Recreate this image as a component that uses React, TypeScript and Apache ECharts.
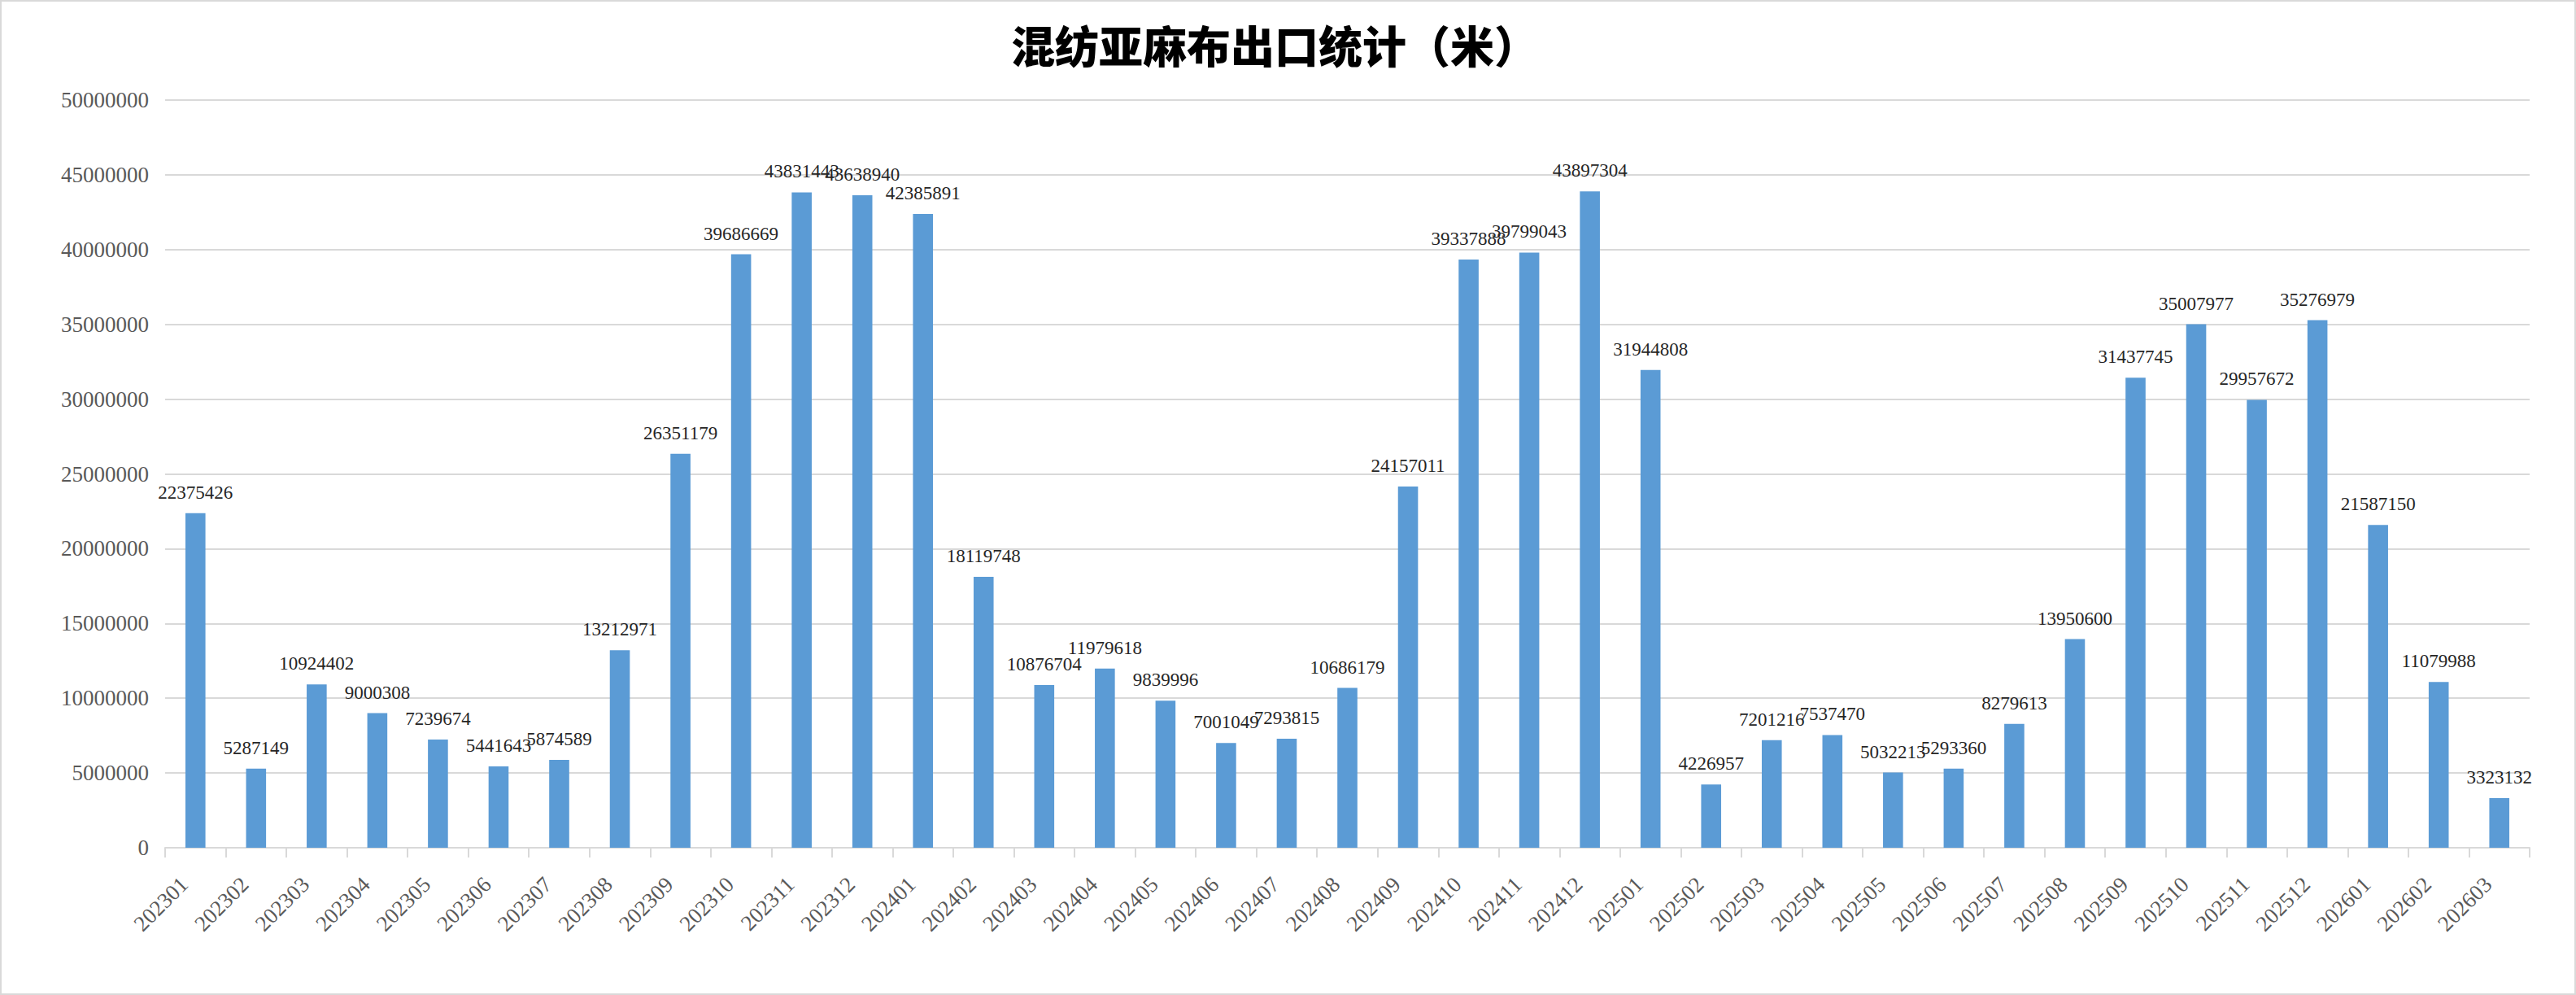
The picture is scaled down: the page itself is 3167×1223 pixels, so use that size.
import React, { useEffect, useRef } from "react";
import * as echarts from "echarts";

const titleText = "混纺亚麻布出口统计（米）";

const categories = [
  "202301", "202302", "202303", "202304", "202305", "202306", "202307", "202308",
  "202309", "202310", "202311", "202312", "202401", "202402", "202403", "202404",
  "202405", "202406", "202407", "202408", "202409", "202410", "202411", "202412",
  "202501", "202502", "202503", "202504", "202505", "202506", "202507", "202508",
  "202509", "202510", "202511", "202512", "202601", "202602", "202603",
];

const values = [
  22375426, 5287149, 10924402, 9000308, 7239674, 5441643, 5874589, 13212971,
  26351179, 39686669, 43831443, 43638940, 42385891, 18119748, 10876704, 11979618,
  9839996, 7001049, 7293815, 10686179, 24157011, 39337888, 39799043, 43897304,
  31944808, 4226957, 7201216, 7537470, 5032213, 5293360, 8279613, 13950600,
  31437745, 35007977, 29957672, 35276979, 21587150, 11079988, 3323132,
];

const yMin = 0;
const yMax = 50000000;
const yInterval = 5000000;

const W = 3167;
const H = 1223;

export default function App() {
  const ref = useRef<HTMLDivElement>(null);

  useEffect(() => {
    document.body.style.margin = "0";
    if (!ref.current) return;
    const chart = echarts.init(ref.current, undefined, { renderer: "svg", width: W, height: H });
    const serif = "'Liberation Serif', 'Times New Roman', serif";
    chart.setOption({
      animation: false,
      backgroundColor: "#ffffff",
      graphic: [
        {
          type: "rect",
          shape: { x: 1, y: 1, width: W - 2, height: H - 2 },
          style: { fill: "none", stroke: "#d9d9d9", lineWidth: 2 },
          z: 0,
        },
        {
          type: "text",
          x: 1567,
          y: 54,
          style: {
            text: titleText,
            fontFamily: "'Noto Sans CJK SC', sans-serif",
            fontWeight: 900,
            fontSize: 54,
            fill: "#000000",
            textAlign: "center",
            textVerticalAlign: "middle",
          },
        },
      ],
      grid: {
        left: 203,
        top: 123,
        width: 2907,
        height: 919,
        containLabel: false,
        outerBoundsMode: "none",
      },
      xAxis: {
        type: "category",
        data: categories,
        boundaryGap: true,
        axisLine: { show: true, lineStyle: { color: "#d9d9d9", width: 2 } },
        axisTick: { show: true, length: 12, lineStyle: { color: "#d9d9d9", width: 2 } },
        axisLabel: {
          interval: 0,
          rotate: 45,
          margin: 46,
          align: "right",
          verticalAlign: "bottom",
          padding: [0, 6, 0, 0],
          fontFamily: serif,
          fontSize: 27,
          color: "#595959",
        },
        splitLine: { show: false },
      },
      yAxis: {
        type: "value",
        min: yMin,
        max: yMax,
        interval: yInterval,
        axisLine: { show: false },
        axisTick: { show: false },
        axisLabel: {
          margin: 20,
          fontFamily: serif,
          fontSize: 27,
          color: "#595959",
          formatter: (v: number) => String(v),
        },
        splitLine: { show: true, lineStyle: { color: "#d9d9d9", width: 2 } },
      },
      series: [
        {
          type: "bar",
          data: values,
          barWidth: "33%",
          itemStyle: { color: "#5b9bd5" },
          label: {
            show: true,
            position: "top",
            distance: 14,
            fontFamily: serif,
            fontSize: 23,
            color: "#262626",
            formatter: (p: any) => String(p.value),
          },
        },
      ],
    });
    return () => chart.dispose();
  }, []);

  return (
    <div
      ref={ref}
      style={{ position: "absolute", left: 0, top: 0, width: W, height: H }}
    />
  );
}
